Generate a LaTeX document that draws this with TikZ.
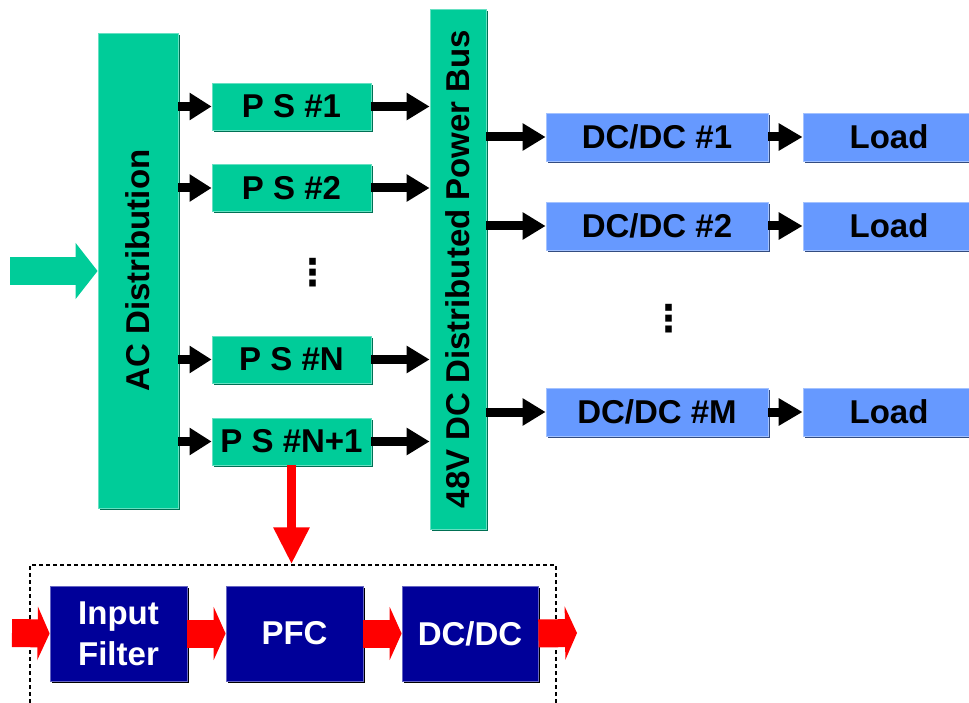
\documentclass[tikz,border=0pt]{standalone}
\usepackage{fontspec}
\setmainfont{Liberation Sans}
\newfontfamily\dotfont{DejaVu Sans}
\usetikzlibrary{arrows.meta}
\usetikzlibrary{shadows}
\definecolor{acgreen}{HTML}{00CC99}
\definecolor{dcblue}{HTML}{6699FF}
\definecolor{fblue}{HTML}{000099}

\begin{document}
\begin{tikzpicture}[x=1pt,y=-1pt]
	\tikzstyle{every node}=[font=\fontsize{33}{41}\selectfont\bfseries,inner sep=0pt]
	\tikzstyle{gbox}=[rectangle,fill=acgreen,draw=acgreen!60!white,line width=0.8pt,drop shadow={shadow xshift=1.8pt,shadow yshift=-1.8pt,fill=acgreen!55!black,opacity=1}]
	\tikzstyle{bbox}=[rectangle,fill=dcblue,draw=dcblue!60!white,line width=0.8pt,drop shadow={shadow xshift=1.8pt,shadow yshift=-1.8pt,fill=dcblue!50!black,opacity=1}]
	\tikzstyle{fbox}=[rectangle,fill=fblue,draw=fblue!60!white,line width=0.8pt,text=white,align=center,minimum height=95pt,drop shadow={shadow xshift=1.8pt,shadow yshift=-1.8pt,fill=black,opacity=1}]
	\tikzstyle{blk}=[line width=9pt,-{Triangle[length=23pt,width=26pt]}]
	\tikzstyle{redblk}=[red,line width=28pt,-{Triangle[length=12pt,width=53pt]}]
	\tikzstyle{vdot}=[font=\fontsize{37}{37}\dotfont\bfseries]

	\clip (0,0) rectangle (969,703);

	\node[gbox,minimum width=80pt,minimum height=475pt] (ac) at (138,270.5) {\rotatebox{90}{AC Distribution}};
	\node[gbox,minimum width=56pt,minimum height=520pt] (bus) at (458,269) {\rotatebox{90}{48V DC Distributed Power Bus}};

	\node[gbox,minimum width=159pt,minimum height=47pt] (ps1) at (291.5,106.5) {P S \#1};
	\node[gbox,minimum width=159pt,minimum height=47pt] (ps2) at (291.5,188) {P S \#2};
	\node[gbox,minimum width=159pt,minimum height=47pt] (psn) at (291.5,359.5) {P S \#N};
	\node[gbox,minimum width=159pt,minimum height=47pt] (psn1) at (291.5,441.5) {P S \#N+1};
	\node[vdot] (d1) at (313,273) {⋮};

	\node[bbox,minimum width=222pt,minimum height=48pt] (dc1) at (657,137) {DC/DC \#1};
	\node[bbox,minimum width=222pt,minimum height=48pt] (dc2) at (657,226) {DC/DC \#2};
	\node[bbox,minimum width=222pt,minimum height=48pt] (dcm) at (657,412) {DC/DC \#M};
	\node[vdot] (d2) at (669,319) {⋮};
	\node[bbox,minimum width=172pt,minimum height=48pt] (ld1) at (889,137) {Load};
	\node[bbox,minimum width=172pt,minimum height=48pt] (ld2) at (889,226) {Load};
	\node[bbox,minimum width=172pt,minimum height=48pt] (ldm) at (889,412) {Load};

	\coordinate (in) at (10,271);
	\draw[acgreen,line width=28pt,-{Triangle[length=22pt,width=55pt]}] (in) -- (ac.west |- in);

	\foreach \p in {ps1,ps2,psn,psn1}{
		\draw[blk,-{Triangle[length=22pt,width=26pt]}] (ac.east |- \p) -- (\p.west);
		\draw[blk] (\p.east) -- (bus.west |- \p);
	}
	\foreach \d/\l in {dc1/ld1,dc2/ld2,dcm/ldm}{
		\draw[blk] (bus.east |- \d) -- (\d.west);
		\draw[blk,-{Triangle[length=24pt,width=26pt]}] (\d.east) -- (\l.west);
	}

	% detail of one supply
	\node[draw,dashed,dash pattern=on 4pt off 3pt,line width=1.5pt,minimum width=526pt,minimum height=200pt] (grp) at (293,665) {};
	\draw[red,line width=9pt,-{Triangle[length=37pt,width=34pt]}] (psn1.south) -- (psn1.south |- grp.north);

	\node[fbox,minimum width=137pt] (flt) at (118.5,633.5) {Input\\Filter};
	\node[fbox,minimum width=137pt] (pfc) at (294.5,633.5) {PFC};
	\node[fbox,minimum width=136pt] (dcdc) at (470,633.5) {DC/DC};

	\coordinate (src) at (12,633);
	\coordinate (out) at (577,633);
	\draw[redblk] (src) -- (flt.west);
	\draw[redblk] (flt.east) -- (pfc.west);
	\draw[redblk] (pfc.east) -- (dcdc.west);
	\draw[redblk] (dcdc.east) -- (out);
\end{tikzpicture}
\end{document}
